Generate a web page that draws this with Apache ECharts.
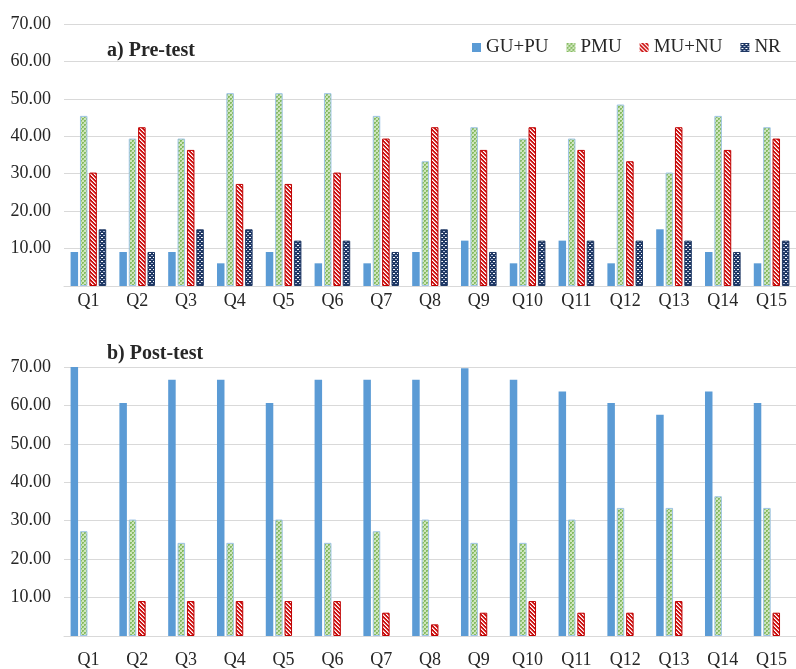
<!DOCTYPE html>
<html>
<head>
<meta charset="utf-8">
<script src="https://cdn.jsdelivr.net/npm/echarts@6/dist/echarts.min.js"></script>
<style>
  html, body { margin: 0; padding: 0; background: #fff; }
  #chart { width: 796px; height: 669px; }
</style>
</head>
<body>
<div id="chart"></div>
<script>
// Question labels shared by both panels
const questions = ['Q1','Q2','Q3','Q4','Q5','Q6','Q7','Q8','Q9','Q10','Q11','Q12','Q13','Q14','Q15'];
const yTicks = [0, 10, 20, 30, 40, 50, 60, 70];
const seriesNames = ['GU+PU', 'PMU', 'MU+NU', 'NR'];

// a) Pre-test percentages
const preGUPU = [9.09, 9.09, 9.09, 6.06, 9.09, 6.06, 6.06, 9.09, 12.12, 6.06, 12.12, 6.06, 15.15, 9.09, 6.06];
const prePMU  = [45.45, 39.39, 39.39, 51.52, 51.52, 51.52, 45.45, 33.33, 42.42, 39.39, 39.39, 48.48, 30.30, 45.45, 42.42];
const preMUNU = [30.30, 42.42, 36.36, 27.27, 27.27, 30.30, 39.39, 42.42, 36.36, 42.42, 36.36, 33.33, 42.42, 36.36, 39.39];
const preNR   = [15.15, 9.09, 15.15, 15.15, 12.12, 12.12, 9.09, 15.15, 9.09, 12.12, 12.12, 12.12, 12.12, 9.09, 12.12];

// b) Post-test percentages
const postGUPU = [72.73, 60.61, 66.67, 66.67, 60.61, 66.67, 66.67, 66.67, 69.70, 66.67, 63.64, 60.61, 57.58, 63.64, 60.61];
const postPMU  = [27.27, 30.30, 24.24, 24.24, 30.30, 24.24, 27.27, 30.30, 24.24, 24.24, 30.30, 33.33, 33.33, 36.36, 33.33];
const postMUNU = [0, 9.09, 9.09, 9.09, 9.09, 9.09, 6.06, 3.03, 6.06, 9.09, 6.06, 6.06, 9.09, 0, 6.06];
const postNR   = [0, 0, 0, 0, 0, 0, 0, 0, 0, 0, 0, 0, 0, 0, 0];

// ---- fill patterns drawn on small canvases ----
function makePattern(size, draw) {
  const c = document.createElement('canvas');
  c.width = size; c.height = size;
  const ctx = c.getContext('2d');
  draw(ctx, size);
  return { image: c, repeat: 'repeat' };
}

// green checker
const pmuFill = makePattern(4, (ctx, s) => {
  ctx.fillStyle = '#cfe6bd'; ctx.fillRect(0, 0, s, s);
  ctx.fillStyle = '#86bb62';
  ctx.fillRect(0, 0, 2, 2); ctx.fillRect(2, 2, 2, 2);
  ctx.fillStyle = '#a7cf8b';
  ctx.fillRect(1, 1, 1, 1); ctx.fillRect(3, 3, 1, 1);
});

// red with white downward diagonal stripes
const munuFill = makePattern(4, (ctx, s) => {
  ctx.fillStyle = '#cc1111'; ctx.fillRect(0, 0, s, s);
  for (let i = 0; i < s; i++) {
    ctx.fillStyle = '#ffffff';
    ctx.fillRect(i, i, 1, 1);
    ctx.fillStyle = '#ee9a9a';
    ctx.fillRect((i + 1) % s, i, 1, 1);
  }
});

// navy with white dots
const nrFill = makePattern(4, (ctx, s) => {
  ctx.fillStyle = '#1f3864'; ctx.fillRect(0, 0, s, s);
  ctx.fillStyle = '#ffffff';
  ctx.fillRect(1, 1, 2, 1);
  ctx.fillStyle = '#aab8d6';
  ctx.fillRect(3, 3, 1, 1);
  ctx.fillRect(0, 3, 1, 1);
});

const styles = [
  { color: '#5b9bd5', borderColor: '#5b9bd5', borderWidth: 0 },
  { color: pmuFill, borderColor: '#9dc3e6', borderWidth: 1 },
  { color: munuFill, borderColor: '#c00000', borderWidth: 1 },
  { color: nrFill, borderColor: '#1f3864', borderWidth: 1 }
];
const legendColors = ['#5b9bd5', pmuFill, munuFill, nrFill];

const serif = '"Liberation Serif", "DejaVu Serif", serif';
const textColor = '#262626';

function xAxis(gridIndex, margin) {
  return {
    type: 'category',
    gridIndex: gridIndex,
    data: questions,
    axisLine: { show: true, lineStyle: { color: '#d9d9d9', width: 1 } },
    axisTick: { show: false },
    axisLabel: { fontFamily: serif, fontSize: 18, color: textColor, margin: margin }
  };
}
function yAxis(gridIndex) {
  return {
    type: 'value',
    gridIndex: gridIndex,
    min: yTicks[0],
    max: yTicks[yTicks.length - 1],
    interval: yTicks[1] - yTicks[0],
    axisLine: { show: false },
    axisTick: { show: false },
    splitLine: { lineStyle: { color: '#d9d9d9', width: 1 } },
    axisLabel: {
      fontFamily: serif, fontSize: 18, color: textColor, margin: 13,
      formatter: v => (v === 0 ? '' : v.toFixed(2))
    }
  };
}

function barSeries(name, idx, values, axisIndex) {
  return {
    name: name,
    type: 'bar',
    xAxisIndex: axisIndex,
    yAxisIndex: axisIndex,
    barWidth: 7.5,
    barGap: '25%',
    clip: true,
    itemStyle: styles[idx],
    data: values.map(v => (v === 0 ? '-' : v))
  };
}

const preSets = [preGUPU, prePMU, preMUNU, preNR];
const postSets = [postGUPU, postPMU, postMUNU, postNR];

const option = {
  animation: false,
  backgroundColor: '#ffffff',
  color: legendColors,
  title: [
    { text: 'a) Pre-test', left: 102, top: 36,
      textStyle: { fontFamily: serif, fontSize: 20, fontWeight: 'bold', color: textColor } },
    { text: 'b) Post-test', left: 102, top: 339,
      textStyle: { fontFamily: serif, fontSize: 20, fontWeight: 'bold', color: textColor } }
  ],
  legend: {
    data: seriesNames.map((n, i) => ({ name: n, itemStyle: { color: legendColors[i], borderWidth: 0 } })),
    left: 467,
    top: 33,
    icon: 'rect',
    itemWidth: 9,
    itemHeight: 9,
    itemGap: 18,
    textStyle: { fontFamily: serif, fontSize: 19, color: textColor }
  },
  grid: [
    { left: 64, right: 0, top: 24, height: 262 },
    { left: 64, right: 0, top: 367, height: 270 }
  ],
  xAxis: [xAxis(0, 6), xAxis(1, 15)],
  yAxis: [yAxis(0), yAxis(1)],
  series: [
    ...seriesNames.map((n, i) => barSeries(n, i, preSets[i], 0)),
    ...seriesNames.map((n, i) => barSeries(n, i, postSets[i], 1))
  ]
};

const chart = echarts.init(document.getElementById('chart'), null, { renderer: 'canvas' });
chart.setOption(option);
</script>
</body>
</html>
